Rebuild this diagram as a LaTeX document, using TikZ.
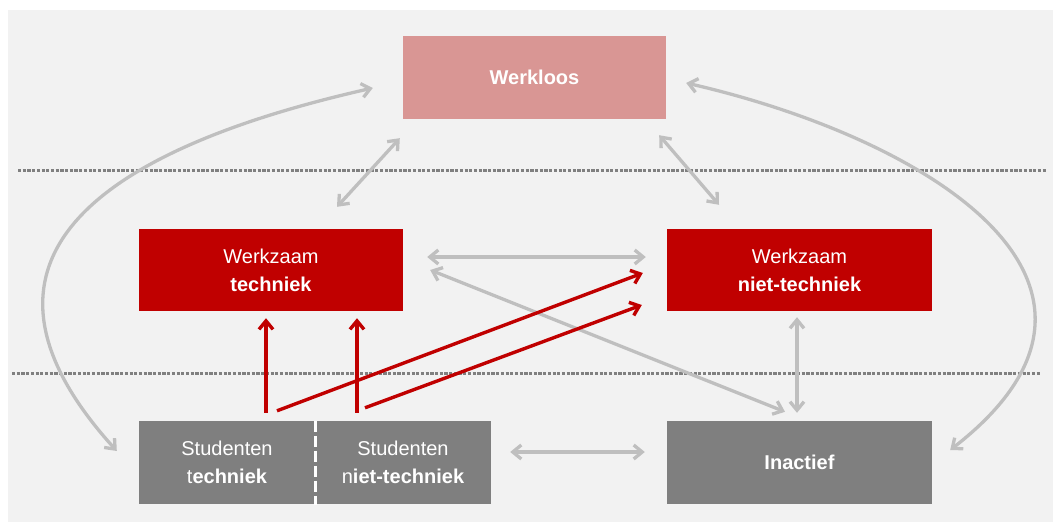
\documentclass[tikz,border=0pt]{standalone}
\usepackage{fontspec}
\setmainfont{Liberation Sans}
\usetikzlibrary{arrows.meta,calc}

\definecolor{panelbg}{HTML}{F2F2F2}
\definecolor{lossred}{HTML}{D99694}
\definecolor{workred}{HTML}{C00000}
\definecolor{boxgray}{HTML}{7F7F7F}
\definecolor{linkgray}{HTML}{BFBFBF}
\definecolor{sepgray}{HTML}{808080}

\tikzset{
  >={Straight Barb[length=8.5pt,width=14pt]},
  state/.style={rectangle, inner sep=0pt, text=white, align=center,
    font=\fontsize{20}{28}\selectfont},
  widebox/.style={state, minimum width=264pt, minimum height=82pt},
  halfbox/.style={state, fill=boxgray, minimum width=176pt, minimum height=83pt},
  link/.style={draw=linkgray, line width=3.3pt, <->},
  flow/.style={draw=workred, line width=3.4pt, ->},
  separator/.style={draw=sepgray, line width=3pt, dash pattern=on 3.2pt off 1.5pt},
}

\begin{document}
\begin{tikzpicture}[x=1pt,y=-1pt]
  % canvas and panel
  \fill[white] (0,0) rectangle (1053,522);
  \useasboundingbox (0,0) rectangle (1053,522);
  \fill[panelbg] (8,10) rectangle (1053,522);

  % level separators
  \draw[separator] (18,170) -- (1047,170);
  \draw[separator] (12,373) -- (1040,373);

  % states
  \node[widebox, fill=lossred, minimum width=263pt, minimum height=83pt] (wl) at (534.5,77.5) {\textbf{Werkloos}};
  \node[widebox, fill=workred] (wt) at (271,270) {Werkzaam\\\textbf{techniek}};
  \node[widebox, fill=workred, minimum width=265pt] (wnt) at (799.5,270) {Werkzaam\\\textbf{niet-techniek}};
  \node[widebox, fill=boxgray, minimum width=265pt, minimum height=83pt] (ina) at (799.5,462.5) {\textbf{Inactief}};
  \node[halfbox] (st) at (227,462.5) {Studenten\\t\textbf{echniek}};
  \node[halfbox] (snt) at (403,462.5) {Studenten\\n\textbf{iet-techniek}};
  \draw[white, line width=3pt, dash pattern=on 11pt off 4pt] (st.north east) -- ([yshift=-1pt]st.south east);

  % grey transitions
  \draw[link] ($(wl.south west)+(-3,19)$) -- ($(wt.north)+(66,-22)$);
  \draw[link] ($(wl.south east)+(-7,16)$) -- ($(wnt.north)+(-80.5,-24)$);
  \draw[link] ($(st.west)+(-22,-11.5)$) .. controls +(-185,-204) and +(-244,55) .. ($(wl.west)+(-30,10.5)$);
  \draw[link] ($(ina.east)+(18,-12.5)$) .. controls +(213,-165) and +(244,56) .. ($(wl.east)+(20,5.5)$);
  \draw[link] ($(wt.east)+(24,-13)$) -- ($(wnt.west)+(-21,-13)$);
  \draw[link] ($(wt.east)+(27,0)$) -- ($(ina.north)+(-14.5,-9)$);
  \draw[link] ($(wnt.south)+(-2.5,6)$) -- ($(ina.north)+(-2.5,-8)$);
  \draw[link] ($(snt.east)+(19,-10.5)$) -- ($(ina.west)+(-22,-10.5)$);

  % student outflows
  \draw[flow] ($(st.north)+(39,-8)$) -- ($(wt.south)+(-5,7)$);
  \draw[flow] ($(snt.north)+(-46,-8)$) -- ($(wt.south)+(86,7)$);
  \draw[flow] ($(st.north)+(50,-10)$) -- ($(wnt.west)+(-24,3)$);
  \draw[flow] ($(snt.north)+(-38,-13)$) -- ($(wnt.west)+(-25,35)$);
\end{tikzpicture}
\end{document}
